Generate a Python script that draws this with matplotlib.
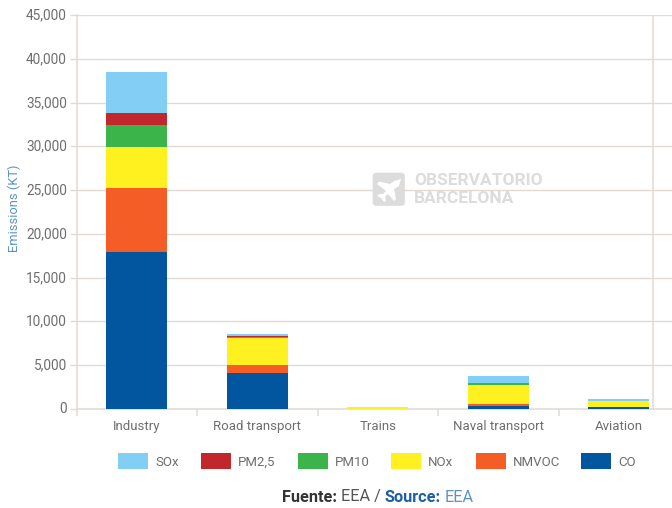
import numpy as np
import matplotlib
matplotlib.use("Agg")
import matplotlib.pyplot as plt
from matplotlib.patches import FancyBboxPatch, Polygon
from matplotlib.transforms import ScaledTranslation

plt.rcParams['font.family'] = ['Roboto', 'DejaVu Sans']

categories = ["Industry", "Road transport", "Trains", "Naval transport", "Aviation"]
# drawn bottom to top
series_names = ["CO", "NMVOC", "NOx", "PM10", "PM2,5", "SOx"]
co = [17960, 4085, 5, 340, 200]
nmvoc = [7290, 915, 5, 200, 10]
nox = [4690, 3090, 170, 2170, 670]
pm10 = [2520, 110, 0, 230, 5]
pm25 = [1370, 120, 0, 20, 5]
sox = [4690, 230, 15, 780, 220]
colors = ["#02569f", "#f45d25", "#fff01f", "#3bb54a", "#c1272d", "#82cef5"]
yticks = [0, 5000, 10000, 15000, 20000, 25000, 30000, 35000, 40000, 45000]

W, H = 672, 508
fig = plt.figure(figsize=(W / 100, H / 100), dpi=100)
ax = fig.add_axes([76.5 / W, 1 - 408.7 / H, (679 - 76.5) / W, (408.7 - 15.3) / H])
ax.set_xlim(-0.5, 4.5)
ax.set_ylim(0, 45000)

grid = "#e2dad5"
text_c = "#6d6e70"
ax.set_axisbelow(True)
ax.grid(axis='y', color=grid, lw=1.0)
ax.axvline(4.284, color=grid, lw=1.1, zorder=1)
for s in ['top', 'right']:
    ax.spines[s].set_visible(False)
for s in ['left', 'bottom']:
    ax.spines[s].set_color(grid)
    ax.spines[s].set_linewidth(1.1)

x = np.arange(len(categories))
bottom = np.zeros(len(categories))
data = [co, nmvoc, nox, pm10, pm25, sox]
for vals, c in zip(data, colors):
    ax.bar(x, vals, width=0.506, bottom=bottom, color=c, lw=0, zorder=3)
    bottom = bottom + np.array(vals)

ax.set_xticks(np.arange(-0.5, 4, 1), minor=False, labels=[""] * 5)
ax.set_xticks(x, labels=categories, minor=True)
ax.tick_params(axis='x', which='major', length=5, width=1.1, color=grid)
ax.tick_params(axis='x', which='minor', length=0, labelsize=9.5, labelcolor=text_c, pad=8)
ax.set_yticks(yticks, labels=[f"{v:,}" for v in yticks])
ax.tick_params(axis='y', length=5, width=1.0, color=grid, labelsize=9.8, labelcolor=text_c, pad=2)
ax.set_xlim(-0.5, 4.5)
# y labels sit a pixel above their gridlines
nudge = ScaledTranslation(0, 1.2 / 100, fig.dpi_scale_trans)
for lab in ax.get_yticklabels():
    lab.set_transform(lab.get_transform() + nudge)
fig.text(14.5 / W, 1 - 208 / H, "Emissions (KT)", rotation=90, color="#5b93c7",
         fontsize=9.3, ha='center', va='center')

# legend drawn by hand to follow the reference spacing
leg_x = [118, 201, 298, 391, 476, 581]
leg_names = ["SOx", "PM2,5", "PM10", "NOx", "NMVOC", "CO"]
leg_cols = colors[::-1]
for lx, name, c in zip(leg_x, leg_names, leg_cols):
    fig.patches.append(plt.Rectangle((lx / W, 1 - 469 / H), 30 / W, 16 / H, color=c, lw=0,
                                     transform=fig.transFigure))
    fig.text((lx + 37) / W, 1 - 462 / H, name, color=text_c, fontsize=9.5, ha='left', va='center')

# source line
t = fig.text(282 / W, 1 - 497 / H, "Fuente:", color="#333333", fontsize=11.7, weight='bold', va='center')
fig.canvas.draw()
r = fig.canvas.get_renderer()
px = t.get_window_extent(r).x1 + 4
for s, c, w in [("EEA /", "#555555", 'normal'), ("Source:", "#1b5fa5", 'bold'), ("EEA", "#5b93c7", 'normal')]:
    t = fig.text(px / W, 1 - 497 / H, s, color=c, fontsize=11.7, weight=w, va='center')
    px = t.get_window_extent(r).x1 + 4

# watermark
logo = "#dcdcdc"
fig.patches.append(FancyBboxPatch((373 / W, 1 - 205.5 / H), 31.5 / W, 32.5 / H,
                                  boxstyle="round,pad=0,rounding_size=0.006",
                                  fc=logo, ec=logo, lw=0.5, transform=fig.transFigure, zorder=5))
plane = [(401, 179), (399, 186), (394, 189), (396, 199), (394, 201), (388, 194), (385, 197),
         (386, 201), (384, 202), (381, 198), (377, 196), (379, 194), (383, 194), (386, 191),
         (377, 184), (379, 181.5), (390, 184), (394, 181)]
fig.patches.append(Polygon([(a / W, 1 - b / H) for a, b in plane], closed=True, fc="white", ec="none",
                           transform=fig.transFigure, zorder=6))
fig.text(414 / W, 1 - 180.5 / H, "OBSERVATORIO", color=logo, fontsize=12.5, weight='bold', va='center', zorder=6)
fig.text(414 / W, 1 - 198.5 / H, "BARCELONA", color=logo, fontsize=12.5, weight='bold', va='center', zorder=6)

fig.savefig("out.png", dpi=100)
